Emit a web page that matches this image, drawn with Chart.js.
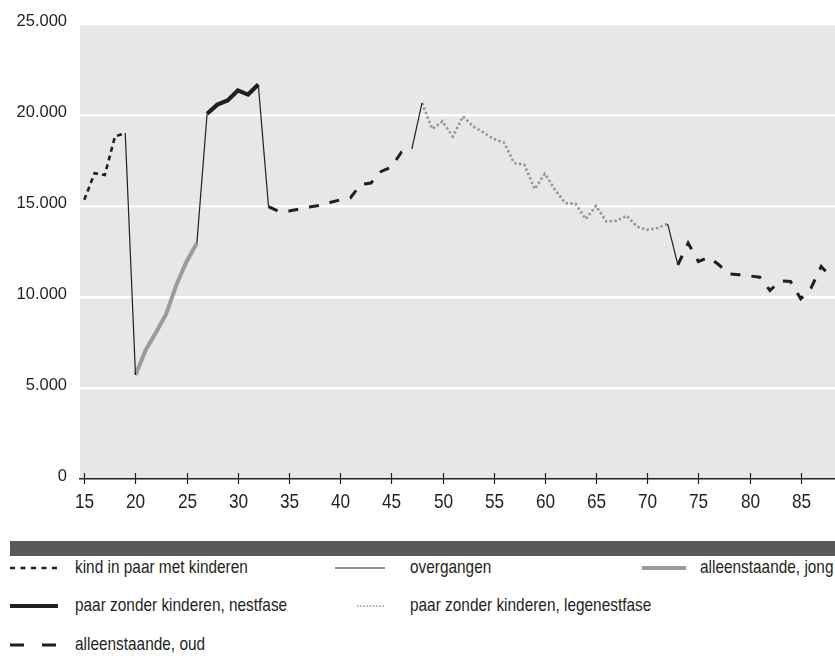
<!DOCTYPE html>
<html lang="nl">
<head>
<meta charset="utf-8">
<title>Inkomen naar levensfase</title>
<script src="https://cdn.jsdelivr.net/npm/chart.js@4.4.1/dist/chart.umd.min.js"></script>
<style>
  html, body { margin: 0; padding: 0; background: #fff; }
  #wrap { position: relative; width: 835px; height: 656px; overflow: hidden; }
  #chartBox { position: absolute; left: 0; top: 0; width: 835px; height: 525px; }
  #band { position: absolute; left: 10px; top: 541px; width: 825px; height: 15px; background: #58595B; }
  .item { position: absolute; height: 24px; line-height: 24px; white-space: nowrap;
          font: 19px "Liberation Sans", Arial, sans-serif; color: #231F20; }
  .item svg { position: absolute; top: 7px; }
  .item span { position: absolute; top: 0; transform: scaleX(0.81); transform-origin: 0 50%; }
</style>
</head>
<body>
<div id="wrap">
  <div id="chartBox"><canvas id="chart"></canvas></div>
  <div id="band"></div>
  <div id="legend"></div>
</div>
<script>
// ----------------------------------------------------------------------
// Data
// ----------------------------------------------------------------------
const kindAges = [15, 16, 17, 18, 19];
const kindValues = [15340, 16800, 16700, 18820, 19010];

const jongAges = [20, 21, 22, 23, 24, 25, 26];
const jongValues = [5720, 7090, 8050, 9070, 10670, 11950, 12960];

const nestAges = [27, 28, 29, 30, 31, 32];
const nestValues = [20070, 20570, 20800, 21350, 21120, 21670];

const oudEarlyAges = [33, 34, 35, 36, 37, 38, 39, 40, 41, 42, 43, 44, 45, 46, 47];
const oudEarlyValues = [14970, 14700, 14720, 14830, 14940, 15030, 15190, 15340,
  15440, 16190, 16260, 16900, 17140, 17970, 18130];

const legeAges = [48, 49, 50, 51, 52, 53, 54, 55, 56, 57, 58, 59, 60, 61, 62, 63,
  64, 65, 66, 67, 68, 69, 70, 71, 72];
const legeValues = [20660, 19230, 19650, 18820, 19920, 19370, 19040, 18680, 18490,
  17360, 17270, 15930, 16770, 15890, 15160, 15120, 14280, 15010, 14150, 14190,
  14460, 13870, 13690, 13790, 14020];

const oudLateAges = [73, 74, 75, 76, 77, 78, 79, 80, 81, 82, 83, 84, 85, 86, 87, 88];
const oudLateValues = [11770, 12960, 11950, 12190, 11770, 11270, 11220, 11160,
  11090, 10360, 10890, 10850, 9900, 10490, 11680, 11090];

const xTicks = [15, 20, 25, 30, 35, 40, 45, 50, 55, 60, 65, 70, 75, 80, 85];
const yTicks = [0, 5000, 10000, 15000, 20000, 25000];

// ----------------------------------------------------------------------
// Helpers
// ----------------------------------------------------------------------
function points(ages, values) {
  return ages.map((a, i) => ({ x: a, y: values[i] }));
}

// thin connecting lines between the phases
const phases = [
  [kindAges, kindValues],
  [jongAges, jongValues],
  [nestAges, nestValues],
  [oudEarlyAges, oudEarlyValues],
  [legeAges, legeValues],
  [oudLateAges, oudLateValues],
];
const overgangData = [];
for (let i = 0; i < phases.length - 1; i++) {
  const [aA, vA] = phases[i];
  const [aB, vB] = phases[i + 1];
  overgangData.push({ x: aA[aA.length - 1], y: vA[vA.length - 1] });
  overgangData.push({ x: aB[0], y: vB[0] });
  overgangData.push({ x: (aA[aA.length - 1] + aB[0]) / 2, y: null });
}

const INK = "#231F20";
const GREY = "#9B9B9B";

const styles = {
  kind: { color: INK, width: 2.6, dash: [5, 4] },
  overgang: { color: INK, width: 1.2, dash: [] },
  jong: { color: GREY, width: 4, dash: [] },
  nest: { color: INK, width: 4.2, dash: [] },
  lege: { color: "#959595", width: 2.6, dash: [2.4, 2.4] },
  oud: { color: INK, width: 3, dash: [10, 11] },
};

function ds(label, data, st) {
  return {
    label,
    data,
    borderColor: st.color,
    borderWidth: st.width,
    borderDash: st.dash,
    borderCapStyle: "butt",
    pointRadius: 0,
    pointHoverRadius: 0,
    tension: 0,
    spanGaps: false,
    fill: false,
  };
}

const oudData = points(oudEarlyAges, oudEarlyValues)
  .concat([{ x: 60, y: null }])
  .concat(points(oudLateAges, oudLateValues));

// ----------------------------------------------------------------------
// Plugins: grey plot background, crossing tick marks + narrow x labels
// ----------------------------------------------------------------------
const plotBackground = {
  id: "plotBackground",
  beforeDraw(chart) {
    const { ctx, chartArea: a } = chart;
    ctx.save();
    ctx.fillStyle = "#E6E7E8";
    ctx.fillRect(a.left, a.top, a.right - a.left, a.bottom - a.top);
    ctx.restore();
  },
};

const xAxisMarks = {
  id: "xAxisMarks",
  afterDraw(chart) {
    const { ctx, chartArea: a, scales } = chart;
    ctx.save();
    ctx.strokeStyle = INK;
    ctx.fillStyle = INK;
    ctx.lineWidth = 1.2;
    ctx.font = "21px 'Liberation Sans', Arial, sans-serif";
    ctx.textAlign = "center";
    ctx.textBaseline = "middle";
    xTicks.forEach((t) => {
      const px = Math.round(scales.x.getPixelForValue(t)) + 0.5;
      ctx.beginPath();
      ctx.moveTo(px, a.bottom - 6);
      ctx.lineTo(px, a.bottom + 5);
      ctx.stroke();
      // condensed label (scaled horizontally)
      ctx.save();
      ctx.translate(px, a.bottom + 23);
      ctx.scale(0.82, 1);
      ctx.fillText(String(t), 0, 0);
      ctx.restore();
    });
    ctx.restore();
  },
};

// ----------------------------------------------------------------------
// Chart
// ----------------------------------------------------------------------
new Chart(document.getElementById("chart"), {
  type: "line",
  data: {
    datasets: [
      ds("overgangen", overgangData, styles.overgang),
      ds("kind in paar met kinderen", points(kindAges, kindValues), styles.kind),
      ds("alleenstaande, jong", points(jongAges, jongValues), styles.jong),
      ds("paar zonder kinderen, nestfase", points(nestAges, nestValues), styles.nest),
      ds("paar zonder kinderen, legenestfase", points(legeAges, legeValues), styles.lege),
      ds("alleenstaande, oud", oudData, styles.oud),
    ],
  },
  options: {
    responsive: true,
    maintainAspectRatio: false,
    animation: false,
    events: [],
    layout: { padding: { top: 24, left: 0, right: 0, bottom: 0 } },
    plugins: { legend: { display: false }, tooltip: { enabled: false } },
    scales: {
      x: {
        type: "linear",
        min: 14.58,
        max: 88.35,
        afterBuildTicks: (scale) => { scale.ticks = xTicks.map((v) => ({ value: v })); },
        afterFit: (scale) => { scale.height = 46; },
        grid: { display: false, drawTicks: false },
        border: { display: true, color: INK, width: 1.5 },
        ticks: { display: false },
      },
      y: {
        min: 0,
        max: 25000,
        afterBuildTicks: (scale) => { scale.ticks = yTicks.map((v) => ({ value: v })); },
        afterFit: (scale) => { scale.width = 80; },
        grid: { color: "#FFFFFF", lineWidth: 2.5, drawTicks: false },
        border: { display: false },
        ticks: {
          padding: 13,
          labelOffset: -3,
          color: INK,
          font: { family: "'Liberation Sans', Arial, sans-serif", size: 16.5 },
          callback: (v) => (v === 0 ? "0" : v.toLocaleString("nl-NL")),
        },
      },
    },
  },
  plugins: [plotBackground, xAxisMarks],
});

// ----------------------------------------------------------------------
// Legend (HTML, three columns)
// ----------------------------------------------------------------------
const legendItems = [
  { text: "kind in paar met kinderen", st: styles.kind, left: 10, top: 556, sw: 48, textX: 65, dash: [5, 5.5], w: 2.6 },
  { text: "overgangen", st: styles.overgang, left: 335, top: 556, sw: 50, textX: 75, dash: [], w: 1.2 },
  { text: "alleenstaande, jong", st: styles.jong, left: 642, top: 556, sw: 44, textX: 58, dash: [], w: 4 },
  { text: "paar zonder kinderen, nestfase", st: styles.nest, left: 10, top: 594, sw: 48, textX: 65, dash: [], w: 4.2 },
  { text: "paar zonder kinderen, legenestfase", st: styles.lege, left: 357, top: 594, sw: 28, textX: 53, dash: [1.6, 1.6], w: 1.6 },
  { text: "alleenstaande, oud", st: styles.oud, left: 10, top: 633, sw: 48, textX: 65, dash: [14, 18], w: 3 },
];

const legendEl = document.getElementById("legend");
legendItems.forEach((it) => {
  const div = document.createElement("div");
  div.className = "item";
  div.style.left = it.left + "px";
  div.style.top = it.top + "px";
  div.innerHTML =
    `<svg width="${it.sw}" height="10"><line x1="0" y1="5" x2="${it.sw}" y2="5" ` +
    `stroke="${it.st.color}" stroke-width="${it.w}" stroke-dasharray="${it.dash.join(",")}"/></svg>` +
    `<span style="left:${it.textX}px;">${it.text}</span>`;
  legendEl.appendChild(div);
});
</script>
</body>
</html>
